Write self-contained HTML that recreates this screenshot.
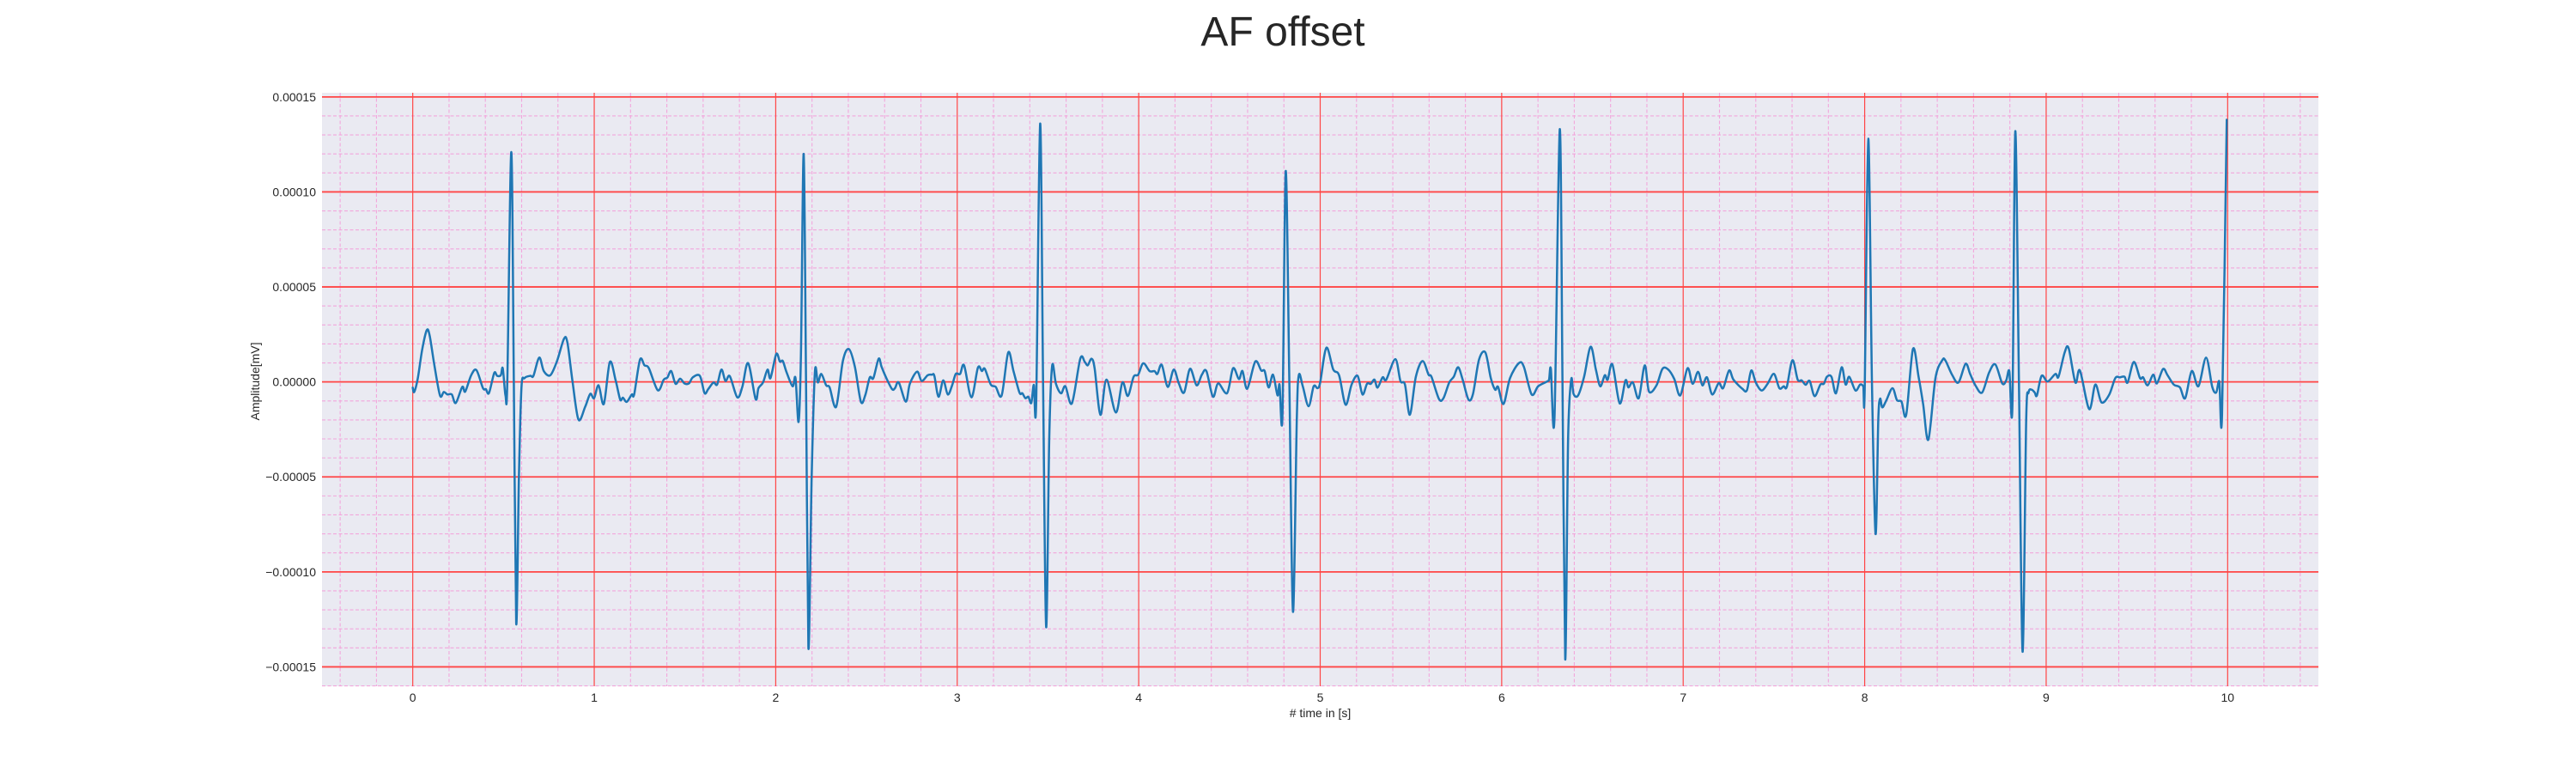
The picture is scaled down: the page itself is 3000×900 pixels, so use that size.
<!DOCTYPE html>
<html><head><meta charset="utf-8"><title>AF offset</title>
<style>
html,body{margin:0;padding:0;background:#fff;}
svg{display:block;}
text{font-family:"Liberation Sans",Arial,sans-serif;fill:#262626;}
</style></head>
<body>
<svg id="chart" xmlns="http://www.w3.org/2000/svg" width="3000" height="900" viewBox="0 0 3000 900">
  <rect x="0" y="0" width="3000" height="900" fill="#ffffff"/>
  <text x="1494" y="53" font-size="48" text-anchor="middle">AF offset</text>
  <rect x="375" y="108" width="2325" height="691" fill="#eaeaf2"/>
  <g id="minor-grid"></g>
  <g id="major-grid"></g>
  <g id="series"></g>
  <g id="y-ticks"></g>
  <g id="x-ticks"></g>
  <text x="1537.5" y="835" font-size="14" text-anchor="middle"># time in [s]</text>
  <text x="0" y="0" font-size="14" text-anchor="middle" transform="translate(302,444) rotate(-90)">Amplitude[mV]</text>
</svg>
<script>
const xTicks = [0,1,2,3,4,5,6,7,8,9,10];
const xTickLabels = ["0","1","2","3","4","5","6","7","8","9","10"];
const yTicks = [0.00015,0.0001,0.00005,0,-0.00005,-0.0001,-0.00015];
const yTickLabels = ["0.00015","0.00010","0.00005","0.00000","\u22120.00005","\u22120.00010","\u22120.00015"];
const xDomain = [-0.5, 10.5];
const yDomain = [-0.0001602, 0.0001522];
// signal samples: time [s]
const times = [
0,0.008,0.028,0.052,0.077,0.093,0.118,0.150,0.171,0.191,0.215,0.237,0.273,0.289,0.322,0.351,0.387,0.403,0.420,0.449,0.465,0.485,0.496,0.511,
0.521,0.543,0.557,0.570,0.585,0.599,
0.616,0.648,0.665,0.697,0.722,0.758,0.795,0.833,0.852,0.880,0.913,0.950,0.978,0.999,1.024,1.053,1.086,1.118,1.143,1.158,1.179,1.207,1.220,1.252,1.277,1.301,1.350,1.383,1.403,1.424,1.448,1.473,1.497,1.522,1.543,1.582,1.608,1.628,1.657,1.677,1.701,1.723,1.747,1.788,1.816,1.848,1.889,1.905,1.930,1.955,1.971,2.003,2.023,2.039,2.060,2.093,2.109,2.126,2.139,
2.154,2.167,2.180,2.198,2.216,
2.232,2.251,2.278,2.297,2.333,2.370,2.403,2.436,2.469,2.493,2.518,2.538,2.567,2.583,2.608,2.641,2.657,2.678,2.717,2.739,2.779,2.804,2.837,2.861,2.874,2.897,2.923,2.948,2.972,2.992,3.016,3.038,3.078,3.114,3.136,3.152,3.185,3.212,3.245,3.281,3.310,3.343,3.359,3.376,3.392,3.408,3.422,3.435,
3.457,3.473,3.490,3.507,3.523,
3.544,3.572,3.596,3.632,3.678,3.703,3.719,3.740,3.757,3.789,3.822,3.874,3.910,3.940,3.972,3.997,4.025,4.060,4.087,4.103,4.127,4.160,4.193,4.221,4.250,4.283,4.319,4.348,4.373,4.409,4.438,4.487,4.520,4.552,4.572,4.598,4.642,4.675,4.694,4.716,4.740,4.765,4.776,4.792,
4.810,4.830,4.850,4.871,4.882,
4.904,4.936,4.964,4.985,5.000,5.034,5.072,5.104,5.140,5.173,5.206,5.233,5.258,5.279,5.299,5.316,5.344,5.364,5.414,5.442,5.467,5.494,5.527,5.564,5.597,5.613,5.654,5.679,5.711,5.736,5.760,5.785,5.817,5.842,5.875,5.910,5.940,5.964,5.980,6.010,6.046,6.095,6.122,6.165,6.201,6.250,6.261,6.271,6.291,
6.320,6.335,6.350,6.366,6.383,
6.396,6.421,6.454,6.490,6.519,6.543,6.568,6.584,6.610,6.650,6.682,6.698,6.723,6.755,6.788,6.812,6.853,6.886,6.918,6.951,6.984,7.024,7.052,7.082,7.106,7.131,7.160,7.196,7.220,7.253,7.277,7.326,7.351,7.375,7.400,7.432,7.465,
7.500,7.530,7.554,7.571,7.602,7.631,7.653,7.675,7.697,7.724,7.756,7.775,7.792,7.817,7.842,7.873,7.895,7.915,7.949,7.975,7.992,8.000,
8.020,8.040,8.060,8.075,8.085,
8.097,8.119,8.153,8.178,8.203,8.229,8.266,8.297,8.322,8.351,8.390,8.427,8.444,8.483,8.517,8.556,8.581,8.610,8.647,8.686,8.720,8.758,8.780,8.797,8.814,
8.830,8.850,8.870,8.890,8.903,
8.920,8.937,8.949,8.975,9.008,9.051,9.068,9.102,9.124,9.161,9.186,9.237,9.271,9.305,9.347,9.381,9.407,9.432,9.449,9.483,9.517,9.534,9.559,9.590,9.610,9.644,9.669,9.703,9.737,9.766,9.802,9.839,9.881,9.915,9.937,9.954,9.969,
9.995
];
// amplitude in units of 1e-5 mV
const amplitudesE5 = [
-0.3,-0.53,0.2,1.7,2.72,2.45,0.95,-0.71,-0.53,-0.66,-0.66,-1.11,-0.26,-0.51,0.35,0.62,-0.33,-0.38,-0.59,0.47,0.32,0.35,0.72,-0.71,
0,12.1,0,-12.7,-5,-0.3,
0.2,0.32,0.32,1.28,0.57,0.35,1.1,2.26,2.08,0.05,-1.98,-1.31,-0.63,-0.86,-0.18,-1.16,1.05,0.08,-0.93,-0.83,-1.05,-0.66,-0.66,1.17,0.87,0.72,-0.44,0.12,0.23,0.57,-0.1,0.17,-0.08,-0.08,0.24,0.32,-0.59,-0.38,-0.03,-0.14,0.65,0.05,0.30,-0.81,-0.26,0.99,-0.90,-0.33,-0.03,0.65,0.2,1.47,1.07,1.10,0.50,-0.23,0.2,-2.1,1.5,
12.0,0,-14.0,-5,0.53,
-0.03,0.42,-0.18,-0.29,-1.31,1.10,1.73,0.80,-1.04,-0.71,0.23,0.2,1.22,0.8,0.23,-0.38,-0.33,-0.03,-1.04,-0.1,0.54,0.05,0.35,0.38,0.32,-0.78,0.08,-0.66,-0.18,0.42,0.42,0.87,-0.81,0.75,0.57,0.69,-0.14,-0.26,-0.71,1.55,0.57,-0.56,-0.6,-0.86,-0.78,-1.11,-0.15,-1.11,
13.6,0,-12.9,-3,0.84,
-0.1,-0.6,-0.23,-1.13,1.22,1.05,0.87,1.22,0.72,-1.73,0.12,-1.61,-0.03,-0.74,0.27,0.38,0.98,0.57,0.57,0.42,0.9,-0.26,0.65,-0.08,-0.56,0.69,-0.18,0.38,0.57,-0.78,-0.08,-0.59,0.72,0.15,0.57,-0.36,1.07,0.6,0.57,-0.29,0.38,-0.71,-0.14,-1.76,
11.1,0,-12.1,-2,0.35,
-0.23,-1.28,-0.23,-0.33,-0.03,1.8,0.65,0.35,-1.2,-0.14,0.32,-0.66,-0.1,-0.1,0.12,-0.3,0.24,0.12,1.2,0.05,-0.14,-1.73,0.27,1.1,0.38,0.27,-0.89,-0.86,-0.03,0.27,0.77,0.12,-0.93,-0.63,1.17,1.55,0.2,-0.41,-0.26,-1.16,0.2,0.99,0.8,-0.66,-0.23,0.02,0.12,0.69,-1.88,
13.3,0,-14.6,-3,0.12,
-0.63,-0.71,0.27,1.85,0.65,-0.23,0.35,0.12,0.92,-1.13,0.08,-0.29,-0.03,-0.86,0.87,-0.51,-0.18,0.69,0.65,0.15,-0.71,0.72,-0.1,0.53,-0.18,0.24,-0.66,-0.06,-0.33,0.6,0.12,-0.36,-0.44,0.6,-0.03,-0.45,-0.1,
0.42,-0.33,-0.23,-0.26,1.14,0.12,0.08,-0.15,0.05,-0.75,-0.14,-0.1,0.27,0.27,-0.6,0.77,-0.14,0.27,-0.45,-0.14,-0.23,-0.48,
12.8,0,-8.0,-2,-0.89,
-1.34,-0.98,-0.33,-0.96,-1.04,-1.73,1.73,0.27,-1.16,-3.04,0.2,1.13,1.14,0.35,-0.03,0.95,0.42,-0.18,-0.56,0.5,0.92,-0.08,0.08,0.57,-1.28,
13.2,0,-14.2,-2,-0.56,
-0.41,-0.56,-0.71,0.32,0.02,0.42,0.27,1.55,1.77,-0.03,0.6,-1.43,-0.14,-1.08,-0.68,0.2,0.24,0.27,-0.03,1.05,0.2,0.24,-0.18,0.38,-0.08,0.68,0.35,-0.14,-0.29,-0.86,0.57,-0.23,1.28,-0.26,-0.56,0.02,-1.73,
13.8
];

const NS = "http://www.w3.org/2000/svg";
const PL = 375, PR = 2700, PT = 108, PB = 799;
function xScale(t){ return PL + (t - xDomain[0]) / (xDomain[1] - xDomain[0]) * (PR - PL); }
function yScale(v){ return PB - (v - yDomain[0]) / (yDomain[1] - yDomain[0]) * (PB - PT); }
function mk(tag, attrs, parent){
  const e = document.createElementNS(NS, tag);
  for (const k in attrs) e.setAttribute(k, attrs[k]);
  parent.appendChild(e);
  return e;
}
const minorG = document.getElementById('minor-grid');
const majorG = document.getElementById('major-grid');
for (let i = -2; i <= 52; i++) {
  if (i % 5 === 0) continue;
  const t = i * 0.2;
  if (t < xDomain[0] || t > xDomain[1]) continue;
  const x = xScale(t);
  const l = mk('line', {x1:x, x2:x, y1:PT, y2:PB, stroke:'#f2a6dc', 'stroke-width':1.1, 'stroke-dasharray':'4,2.5'}, minorG);
  
  
}
for (let i = -16; i <= 15; i++) {
  if (i % 5 === 0) continue;
  const v = i * 1e-5;
  if (v < yDomain[0] || v > yDomain[1]) continue;
  const y = yScale(v);
  const l = mk('line', {x1:PL, x2:PR, y1:y, y2:y, stroke:'#f2a6dc', 'stroke-width':1.1, 'stroke-dasharray':'4,2.5'}, minorG);
  
  
}
const xt = document.getElementById('x-ticks');
xTicks.forEach((t, i) => {
  const x = xScale(t);
  const l = mk('line', {x1:x, x2:x, y1:PT, y2:PB, stroke:'#ff4545', 'stroke-width':1.2}, majorG);
  
  
  const tx = mk('text', {x:x, y:817, 'font-size':14, 'text-anchor':'middle'}, xt);
  tx.textContent = xTickLabels[i];
  
  
});
const yt = document.getElementById('y-ticks');
yTicks.forEach((v, i) => {
  const y = yScale(v);
  const l = mk('line', {x1:PL, x2:PR, y1:y, y2:y, stroke:'#ff4545', 'stroke-width':1.8}, majorG);
  
  
  const tx = mk('text', {x:368, y:y + 5, 'font-size':14, 'text-anchor':'end'}, yt);
  tx.textContent = yTickLabels[i];
  
  
});
// smooth path (Catmull-Rom to cubic Bezier)
const P = times.map((t, i) => [xScale(t), yScale(amplitudesE5[i] * 1e-5)]);
let d = 'M' + P[0][0].toFixed(2) + ',' + P[0][1].toFixed(2);
const k = 0.16;
for (let i = 0; i < P.length - 1; i++) {
  const p0 = P[Math.max(0, i - 1)], p1 = P[i], p2 = P[i + 1], p3 = P[Math.min(P.length - 1, i + 2)];
  const c1x = p1[0] + (p2[0] - p0[0]) * k, c1y = p1[1] + (p2[1] - p0[1]) * k;
  const c2x = p2[0] - (p3[0] - p1[0]) * k, c2y = p2[1] - (p3[1] - p1[1]) * k;
  d += ' C' + c1x.toFixed(2) + ',' + c1y.toFixed(2) + ' ' + c2x.toFixed(2) + ',' + c2y.toFixed(2) + ' ' + p2[0].toFixed(2) + ',' + p2[1].toFixed(2);
}
const line = mk('path', {d:d, fill:'none', stroke:'#1f77b4', 'stroke-width':2.5, 'stroke-linejoin':'round', 'stroke-linecap':'round'}, document.getElementById('series'));


</script>
</body></html>
